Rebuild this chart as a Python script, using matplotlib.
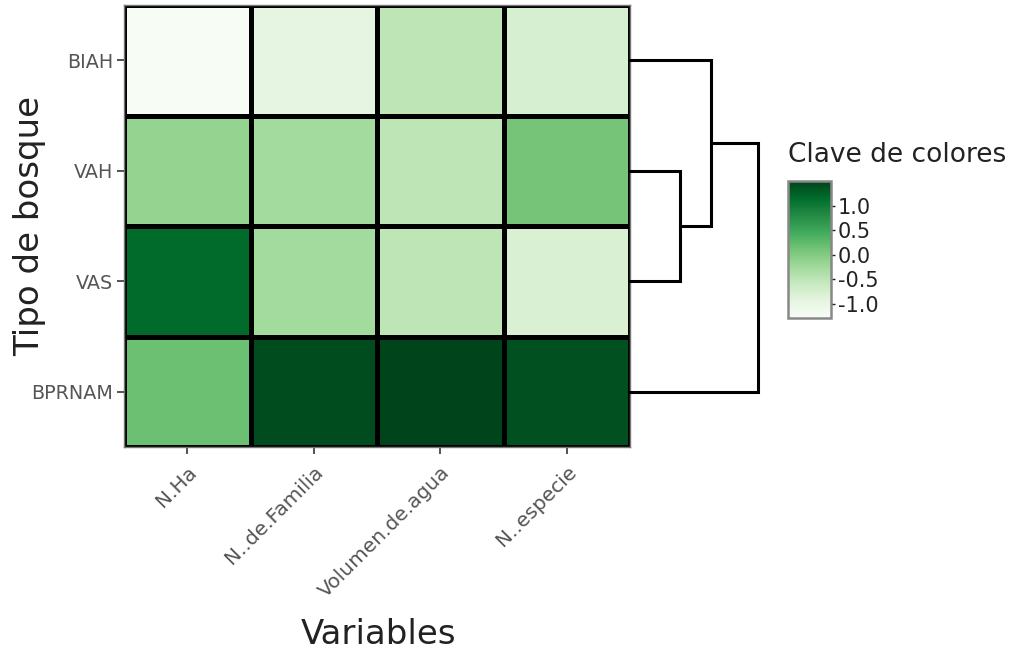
import numpy as np
import matplotlib
matplotlib.use("Agg")
import matplotlib.pyplot as plt

# Standardized values (rows: forest type, columns: variable)
variables = ["N.Ha", "N..de.Familia", "Volumen.de.agua", "N..especie"]
forest_types = ["BIAH", "VAH", "VAS", "BPRNAM"]
z_biah = [-1.29, -0.96, -0.50, -0.76]
z_vah = [-0.14, -0.26, -0.50, 0.10]
z_vas = [1.17, -0.26, -0.50, -0.79]
z_bprnam = [0.16, 1.43, 1.50, 1.40]

# Row dendrogram: merge heights (VAH+VAS, then BIAH, then BPRNAM)
merge_heights = [1.65, 2.64, 4.19]

Z = np.array([z_biah, z_vah, z_vas, z_bprnam])
W, H = 1019, 655
fig = plt.figure(figsize=(W / 100, H / 100), dpi=100)


def px_axes(x0, y0, x1, y1):
    return fig.add_axes([x0 / W, 1 - y1 / H, (x1 - x0) / W, (y1 - y0) / H])


cmap = plt.get_cmap("Greens")
vmin, vmax = Z.min(), Z.max()

# Heatmap
ax = px_axes(124, 5, 630, 447)
nr, nc = Z.shape
mesh = ax.pcolormesh(np.arange(nc + 1), np.arange(nr + 1), Z, cmap=cmap,
                     vmin=vmin, vmax=vmax, edgecolors="black", linewidth=2.2)
ax.set_xlim(0, nc)
ax.set_ylim(nr, 0)
ax.set_xticks(np.arange(nc) + 0.5)
ax.set_yticks(np.arange(nr) + 0.5)
ax.set_xticklabels(variables, rotation=45, ha="right", va="top",
                   rotation_mode="anchor", fontsize=14.5, color="#555555")
ax.set_yticklabels(forest_types, fontsize=13.8, color="#555555")
ax.tick_params(axis="both", length=5, width=1.3, color="#444444", pad=3)
ax.tick_params(axis="x", pad=6)
for s in ax.spines.values():
    s.set_color("#777777")
    s.set_linewidth(1.0)
ax.set_xlabel("Variables", fontsize=24.5, color="#222222")
ax.set_ylabel("Tipo de bosque", fontsize=24.5, color="#222222")
ax.xaxis.set_label_coords(0.502, -(635 - 447) / 442)
ax.xaxis.label.set_va("center")
ax.yaxis.set_label_coords(-(124 - 30) / 506, 0.5)
ax.yaxis.label.set_va("center")

# Row dendrogram drawn to the right of the heatmap
dax = px_axes(630, 5, 759, 447)
dax.set_ylim(nr, 0)
dax.set_xlim(0, merge_heights[-1] * 1.006)
dax.axis("off")
leaf_y = {name: i + 0.5 for i, name in enumerate(forest_types)}
lw = 2.2


def link(y_a, h_a, y_b, h_b, h):
    dax.plot([h_a, h, h, h_b], [y_a, y_a, y_b, y_b], color="black",
             lw=lw, solid_joinstyle="miter", clip_on=False)
    return (y_a + y_b) / 2


c1 = link(leaf_y["VAH"], 0, leaf_y["VAS"], 0, merge_heights[0])
c2 = link(leaf_y["BIAH"], 0, c1, merge_heights[0], merge_heights[1])
link(c2, merge_heights[1], leaf_y["BPRNAM"], 0, merge_heights[2])

# Colour bar
cax = px_axes(788, 181, 831, 318)
cb = fig.colorbar(mesh, cax=cax, ticks=[-1.0, -0.5, 0.0, 0.5, 1.0])
cb.ax.set_yticklabels(["-1.0", "-0.5", "0.0", "0.5", "1.0"])
cb.ax.tick_params(labelsize=15, colors="#222222", length=3, width=1, pad=2)
cb.outline.set_edgecolor("#888888")
cb.outline.set_linewidth(1.8)
fig.text(788 / W, 1 - 155 / H, "Clave de colores", fontsize=19,
         color="#222222", ha="left", va="center")

fig.savefig("out.png", dpi=100, facecolor="white")
